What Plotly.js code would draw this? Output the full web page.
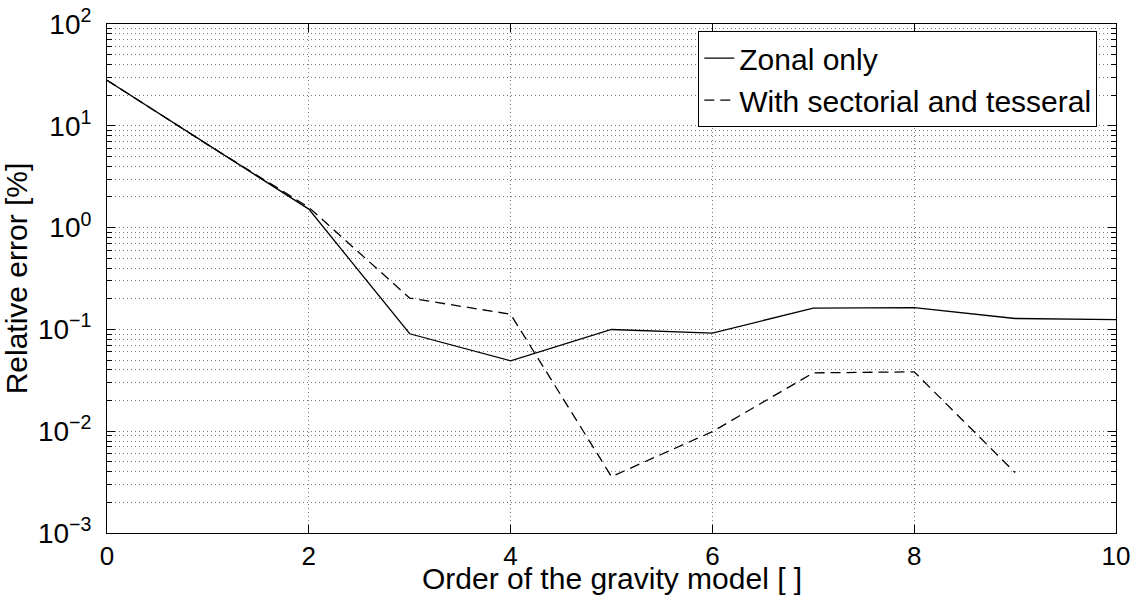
<!DOCTYPE html>
<html>
<head>
<meta charset="utf-8">
<script src="https://cdn.plot.ly/plotly-3.0.1.min.js"></script>
<style>
  html, body { margin: 0; padding: 0; background: #fff; }
  #chart { width: 1140px; height: 605px; }
</style>
</head>
<body>
<div id="chart"></div>
<script>
const order = [0, 1, 2, 3, 4, 5, 6, 7, 8, 9, 10];
const zonalOnly = [28.0, 6.5, 1.52, 0.0906, 0.0491, 0.0998, 0.0920, 0.162, 0.164, 0.128, 0.125];
const orderTess = [0, 1, 2, 3, 4, 5, 6, 7, 8, 9];
const withTesseral = [28.0, 6.5, 1.58, 0.203, 0.141, 0.00358, 0.0099, 0.0374, 0.0383, 0.00392];
const seriesNames = ['Zonal only', 'With sectorial and tesseral'];
const yTickVals = [1e-3, 1e-2, 1e-1, 1e0, 1e1, 1e2];
const yTickText = ['10<sup>−3</sup>', '10<sup>−2</sup>', '10<sup>−1</sup>', '10<sup>0</sup>', '10<sup>1</sup>', '10<sup>2</sup>'];
const xTitle = 'Order of the gravity model [ ]';
const yTitle = 'Relative error [%]';

const FONT = 'Liberation Sans, Arial, Helvetica, sans-serif';
const gridCol = 'rgb(120,120,120)';

const traces = [
  { x: order, y: zonalOnly, name: seriesNames[0], mode: 'lines',
    line: { color: '#000', width: 1.3 } },
  { x: orderTess, y: withTesseral, name: seriesNames[1], mode: 'lines',
    line: { color: '#000', width: 1.3, dash: '10px,6px' } }
];

const layout = {
  width: 1140, height: 605,
  paper_bgcolor: '#fff', plot_bgcolor: '#fff',
  margin: { l: 107, r: 24, t: 24, b: 72 },
  font: { family: FONT, color: '#000', size: 28 },
  showlegend: true,
  legend: {
    x: 0.586, y: 0.986, xanchor: 'left', yanchor: 'top',
    bgcolor: '#fff', bordercolor: '#000', borderwidth: 1,
    font: { family: FONT, size: 30, color: '#000' },
    itemwidth: 30, tracegroupgap: 0
  },
  xaxis: {
    range: [0, 10], tickmode: 'linear', tick0: 0, dtick: 2,
    ticks: 'inside', ticklen: 8, tickcolor: '#000', tickwidth: 1,
    showline: true, linecolor: '#000', linewidth: 1, mirror: 'ticks',
    showgrid: true, gridcolor: gridCol, gridwidth: 1, griddash: '1px,3px',
    zeroline: false, automargin: false, ticklabelstandoff: 0,
    tickfont: { family: FONT, size: 26 }
  },
  yaxis: {
    type: 'log', range: [-3, 2],
    tickmode: 'array', tickvals: yTickVals, ticktext: yTickText,
    ticks: 'inside', ticklen: 8, tickcolor: '#000', tickwidth: 1,
    showline: true, linecolor: '#000', linewidth: 1, mirror: 'ticks',
    showgrid: true, gridcolor: gridCol, gridwidth: 1, griddash: '1px,3px',
    zeroline: false, automargin: false, ticklabelstandoff: 9,
    tickfont: { family: FONT, size: 28 },
    minor: { dtick: 'D1', ticks: 'inside', ticklen: 5, tickcolor: '#000',
             showgrid: true, gridcolor: gridCol, gridwidth: 1, griddash: '1px,3px' },
    title: { text: yTitle, font: { family: FONT, size: 30 }, standoff: 6 }
  },
  annotations: [{
    text: xTitle, xref: 'paper', yref: 'paper', x: 0.5, y: -0.09,
    xanchor: 'center', yanchor: 'middle', showarrow: false,
    font: { family: FONT, size: 30, color: '#000' }
  }]
};

Plotly.newPlot('chart', traces, layout, { displayModeBar: false, staticPlot: true });
</script>
</body>
</html>
